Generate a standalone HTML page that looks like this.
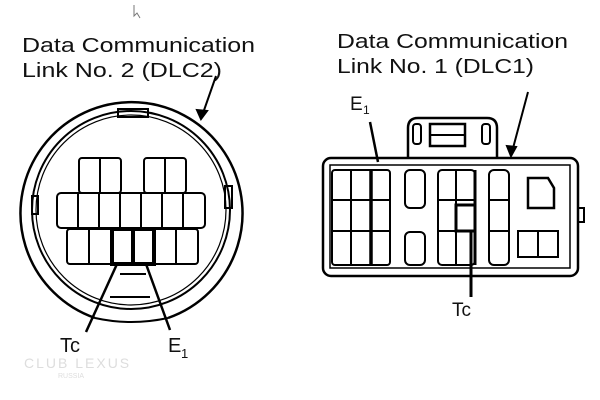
<!DOCTYPE html>
<html><head><style>body{margin:0;background:#fff}svg{display:block}</style></head><body>
<svg width="600" height="400" viewBox="0 0 600 400" xmlns="http://www.w3.org/2000/svg" font-family="Liberation Sans, sans-serif" fill="none" stroke="#000" stroke-width="2">
<g fill="#111" stroke="none" font-size="20">
<text x="22" y="52" textLength="233" lengthAdjust="spacingAndGlyphs">Data Communication</text>
<text x="22" y="77" textLength="200" lengthAdjust="spacingAndGlyphs">Link No. 2 (DLC2)</text>
<text x="337" y="48" textLength="231" lengthAdjust="spacingAndGlyphs">Data Communication</text>
<text x="337" y="73" textLength="197" lengthAdjust="spacingAndGlyphs">Link No. 1 (DLC1)</text>
<text x="60" y="352" font-size="20">Tc</text>
<text x="168" y="352" font-size="20">E</text><text x="181" y="358" font-size="13">1</text>
<text x="350" y="110" font-size="19">E</text><text x="363" y="114" font-size="12">1</text>
<text x="452" y="316" font-size="19">Tc</text>
</g>
<!-- left connector -->
<path d="M95,318 A111,111 0 1 1 168,318" stroke-width="2.5"/>
<path d="M95,318 Q131,326 168,318"/>
<circle cx="131" cy="210" r="99" stroke-width="2"/>
<circle cx="131" cy="210" r="95" stroke-width="1.2"/>
<rect x="118" y="109" width="30" height="8" stroke-width="2"/>
<rect x="32" y="196" width="6" height="18"/>
<rect x="225" y="186" width="7" height="22"/>
<g stroke-width="2">
<rect x="79" y="158" width="42" height="35" rx="3"/><line x1="100" y1="158" x2="100" y2="193"/>
<rect x="144" y="158" width="42" height="35" rx="3"/><line x1="165" y1="158" x2="165" y2="193"/>
<rect x="57" y="193" width="148" height="35" rx="4"/>
<line x1="78" y1="193" x2="78" y2="228"/><line x1="99" y1="193" x2="99" y2="228"/><line x1="120" y1="193" x2="120" y2="228"/><line x1="141" y1="193" x2="141" y2="228"/><line x1="162" y1="193" x2="162" y2="228"/><line x1="183" y1="193" x2="183" y2="228"/>
<rect x="67" y="229" width="131" height="35" rx="3"/>
<line x1="89" y1="229" x2="89" y2="264"/><line x1="176" y1="229" x2="176" y2="264"/><line x1="154" y1="229" x2="154" y2="264"/>
</g>
<rect x="112" y="229" width="21" height="35" stroke-width="4"/>
<rect x="133" y="229" width="21" height="35" stroke-width="4"/>
<line x1="120" y1="274" x2="146" y2="274"/><line x1="110" y1="297" x2="150" y2="297"/>
<line x1="117" y1="264" x2="86" y2="332" stroke-width="2.5"/>
<line x1="146" y1="264" x2="170" y2="330" stroke-width="2.5"/>
<line x1="216" y1="76" x2="202" y2="116" stroke-width="2"/>
<path d="M197,110 L201,119 L207,111 Z" fill="#000"/>
<!-- right connector -->
<rect x="323" y="158" width="255" height="118" rx="8" stroke-width="2.5"/>
<rect x="330" y="165" width="240" height="103" stroke-width="1.5"/>
<path d="M408,158 V128 Q408,118 418,118 H487 Q497,118 497,128 V158" stroke-width="2.5"/>
<rect x="413" y="124" width="8" height="20" rx="3"/><rect x="482" y="124" width="8" height="20" rx="3"/>
<rect x="430" y="124" width="35" height="22" stroke-width="2.5"/><line x1="430" y1="135" x2="465" y2="135"/>
<rect x="578" y="208" width="6" height="14"/>
<g stroke-width="2">
<rect x="332" y="170" width="58" height="95" rx="3"/>
<line x1="351" y1="170" x2="351" y2="265"/><line x1="371" y1="170" x2="371" y2="265" stroke-width="3.5"/>
<line x1="332" y1="200" x2="390" y2="200"/><line x1="332" y1="231" x2="390" y2="231"/>
<rect x="405" y="170" width="20" height="38" rx="5"/>
<rect x="405" y="232" width="20" height="33" rx="5"/>
<rect x="438" y="170" width="37" height="95" rx="4"/>
<line x1="456" y1="170" x2="456" y2="265"/><line x1="438" y1="200" x2="475" y2="200"/><line x1="438" y1="231" x2="475" y2="231"/>
<rect x="489" y="170" width="20" height="95" rx="5"/>
<line x1="489" y1="200" x2="509" y2="200"/><line x1="489" y1="231" x2="509" y2="231"/>
<path d="M528,178 H548 L554,188 V208 H528 Z" stroke-width="2.5"/>
<rect x="518" y="231" width="40" height="26"/><line x1="538" y1="231" x2="538" y2="257"/>
</g>
<rect x="456" y="205" width="19" height="26" stroke-width="3"/>
<line x1="475" y1="170" x2="475" y2="265" stroke-width="3"/>
<line x1="370" y1="122" x2="378" y2="162" stroke-width="2.5"/>
<line x1="471" y1="232" x2="471" y2="297" stroke-width="3"/>
<line x1="528" y1="92" x2="512" y2="152" stroke-width="2"/>
<path d="M507,146 L511,156 L516,147 Z" fill="#000"/>
<path d="M134,5 L134,16 L137,13 L140,18" stroke-width="1" stroke="#777"/>
<text x="24" y="368" font-size="14" fill="#ddd" stroke="none" letter-spacing="2">CLUB LEXUS</text>
<text x="58" y="378" font-size="7" fill="#ddd" stroke="none">RUSSIA</text>
</svg>
</body></html>
